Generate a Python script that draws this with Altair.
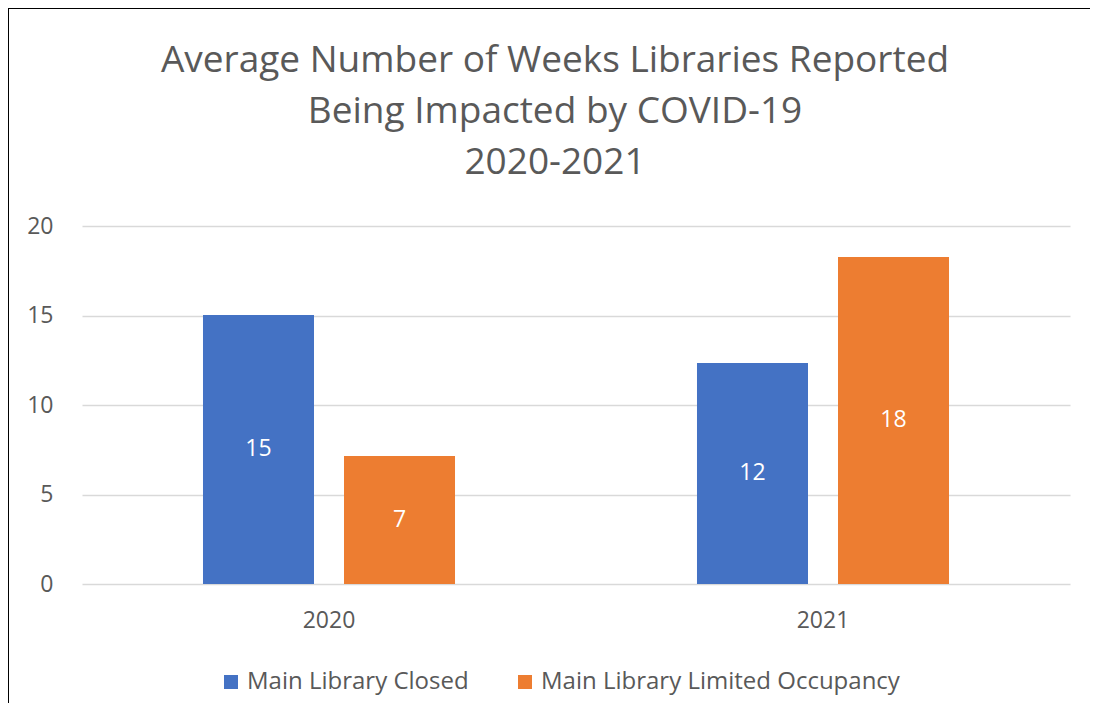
import altair as alt
import pandas as pd

years = ["2020", "2020", "2021", "2021"]
series = ["Main Library Closed", "Main Library Limited Occupancy",
          "Main Library Closed", "Main Library Limited Occupancy"]
weeks = [15.03, 7.15, 12.35, 18.27]
series_order = ["Main Library Closed", "Main Library Limited Occupancy"]
colors = ["#4472C4", "#ED7D31"]
title_lines = ["Average Number of Weeks Libraries Reported",
               "Being Impacted by COVID-19", "2020-2021"]

df = pd.DataFrame({"year": years, "series": series, "weeks": weeks})
one = pd.DataFrame({"k": [0]})

FONT = "Open Sans"
GREY = "#595959"
LBL = 23

base = alt.Chart(df).encode(
    x=alt.X("year:N", title=None, sort=["2020", "2021"],
            scale=alt.Scale(paddingInner=0, paddingOuter=0),
            axis=alt.Axis(labelAngle=0, ticks=False, domain=False, labelPadding=25,
                          labelFontSize=LBL, labelColor=GREY, labelFont=FONT, grid=False)),
    xOffset=alt.XOffset("series:N", sort=series_order,
                        scale=alt.Scale(paddingInner=0.2128, paddingOuter=0.858)),
)

bars = base.mark_bar().encode(
    y=alt.Y("weeks:Q", title=None,
            scale=alt.Scale(domain=[0, 20], nice=False),
            axis=alt.Axis(values=[0, 5, 10, 15, 20], ticks=False, domain=False,
                          labelPadding=29, labelFontSize=LBL, labelColor=GREY,
                          labelFont=FONT, gridColor="#d9d9d9", gridWidth=1.5)),
    color=alt.Color("series:N", sort=series_order,
                    scale=alt.Scale(domain=series_order, range=colors),
                    legend=alt.Legend(title=None, orient="none", direction="horizontal",
                                      legendX=137, legendY=86 + 358,
                                      symbolType="square", symbolSize=196,
                                      symbolStrokeWidth=0, symbolOpacity=1,
                                      labelFontSize=24, labelColor=GREY, labelFont=FONT,
                                      labelOffset=4, columnPadding=44, labelLimit=400)),
)

labels = base.transform_calculate(
    mid="datum.weeks / 2", lab="format(round(datum.weeks), 'd')"
).mark_text(color="white", fontSize=LBL, font=FONT, baseline="middle").encode(
    y=alt.Y("mid:Q"), text="lab:N")

title = alt.Chart(one).mark_text(
    fontSize=37, font=FONT, color=GREY, align="center", baseline="alphabetic",
    lineHeight=51).encode(
    x=alt.value(473), y=alt.value(-154), text=alt.value(title_lines))

frame = alt.Chart(one).mark_rect(fill="transparent", stroke="black", strokeWidth=2).encode(
    x=alt.value(-74), x2=alt.value(1200), y=alt.value(-218), y2=alt.value(700))

chart = alt.layer(bars, labels, title, frame).properties(
    width=988, height=358,
    padding={"left": 74, "top": 218, "right": 20, "bottom": 119},
    autosize=alt.AutoSizeParams(type="none"),
).configure_view(stroke=None)

chart.save("out.html", embed_options={"renderer": "svg", "actions": False})
